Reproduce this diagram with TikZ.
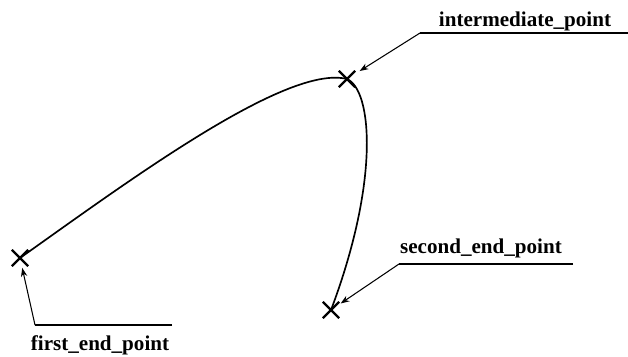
\documentclass[tikz,border=0pt]{standalone}
\usepackage{fontspec}
\setmainfont{Liberation Serif}
\usetikzlibrary{arrows.meta,shapes.misc}

\begin{document}
\begin{tikzpicture}[x=0.02cm, y=-0.02cm, >={Stealth[length=5pt,width=3.6pt]}, line width=0.6pt,
  pt/.style={cross out, draw, minimum size=8pt, inner sep=0pt, line width=1.3pt},
  lbl/.style={font=\bfseries\fontsize{12}{14}\selectfont, inner sep=0pt, anchor=base}]
\useasboundingbox (0,0) rectangle (628,356);
% the three points and the curve through them
\node[pt] (first) at (20,258) {}; \node[pt] (mid) at (347,79) {}; \node[pt] (second) at (331,310) {};
\draw[line width=0.95pt] (first.center) .. controls (130,180) and (287,64) .. (mid.center) .. controls (372,90) and (380,180) .. (second.center);
% labels with their leader lines
\node[lbl] (midlbl) at (525,26) {intermediate\_point}; \coordinate (midA) at (420,33); \coordinate (midB) at (628,33);
\draw (midB) -- (midA); \draw[->, shorten >=3pt] (midA) -- (mid);
\node[lbl] (secondlbl) at (481,253) {second\_end\_point}; \coordinate (secondA) at (399,264); \coordinate (secondB) at (573,264);
\draw (secondB) -- (secondA); \draw[->, shorten >=1pt] (secondA) -- (second);
\node[lbl] (firstlbl) at (100,350) {first\_end\_point}; \coordinate (firstA) at (35,325); \coordinate (firstB) at (172,325);
\draw (firstB) -- (firstA); \draw[->, shorten >=1pt] (firstA) -- (first);
\end{tikzpicture}
\end{document}
